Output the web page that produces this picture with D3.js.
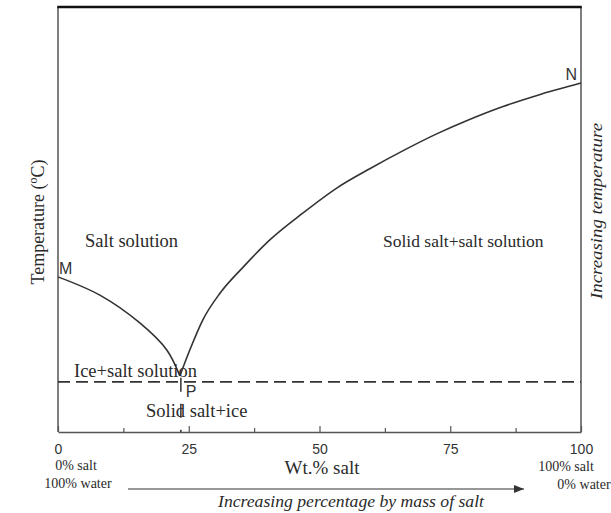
<!DOCTYPE html>
<html>
<head>
<meta charset="utf-8">
<script src="https://cdn.jsdelivr.net/npm/d3@7"></script>
<style>
  html, body { margin: 0; padding: 0; background: #fff; }
  svg { display: block; }
  .serif { font-family: "Liberation Serif", "Times New Roman", serif; fill: #2a2a2a; }
  .sans { font-family: "Liberation Sans", Arial, sans-serif; fill: #333; }
</style>
</head>
<body>
<svg id="chart" width="611" height="513"></svg>
<script>
// Salt–water phase diagram (schematic, temperature in relative units)

// Ice liquidus: M (pure water) down to the eutectic P
const iceCurveSalt = [0, 8.0, 15.7, 20.8, 23.3];
const iceCurveTemp = [36.5, 32.2, 25.6, 19.3, 13.2];

// Salt solubility curve: P up to N (pure salt)
const saltCurveSalt = [23.3, 25.2, 27.7, 31.0, 35.4, 40.5, 46.8, 53.3, 59.7, 66.0, 72.5, 78.8, 85.1, 91.6, 100];
const saltCurveTemp = [13.2, 19.3, 26.4, 32.7, 38.8, 45.2, 51.5, 57.4, 62.0, 66.2, 70.2, 73.6, 76.6, 79.2, 82.1];

// Eutectic
const eutecticSalt = 23.3;
const eutecticTemp = 11.8;

// Axis ticks
const majorTicks = [0, 25, 50, 75, 100];
const minorTicks = [12.5, 37.5, 62.5, 87.5];

const svg = d3.select("#chart");

const x = d3.scaleLinear().domain([0, 100]).range([58, 581]);
const y = d3.scaleLinear().domain([0, 100]).range([432, 7]);

// Frame
const frame = svg.append("g");
frame.append("line").attr("x1", x(0)).attr("x2", x(0)).attr("y1", y(100)).attr("y2", y(0))
  .attr("stroke", "#555").attr("stroke-width", 1.5);
frame.append("line").attr("x1", x(100)).attr("x2", x(100)).attr("y1", y(100)).attr("y2", y(0))
  .attr("stroke", "#555").attr("stroke-width", 1.5);
frame.append("line").attr("x1", x(0) - 0.75).attr("x2", x(100) + 0.75).attr("y1", y(100)).attr("y2", y(100))
  .attr("stroke", "#111").attr("stroke-width", 2.5);

// Bottom axis with inward ticks
const axisMajor = d3.axisBottom(x).tickValues(majorTicks)
  .tickSizeInner(-6).tickSizeOuter(0).tickPadding(12)
  .tickFormat(d3.format("d"));
const gx = svg.append("g").attr("transform", `translate(0,${y(0)})`).call(axisMajor);
gx.select(".domain").attr("stroke", "#555").attr("stroke-width", 1.5);
gx.selectAll(".tick line").attr("stroke", "#555").attr("stroke-width", 1.2);
gx.selectAll(".tick text").attr("class", "sans").attr("font-size", 14).attr("fill", "#333");

const axisMinor = d3.axisBottom(x).tickValues(minorTicks)
  .tickSizeInner(-4).tickSizeOuter(0).tickFormat("");
const gm = svg.append("g").attr("transform", `translate(0,${y(0)})`).call(axisMinor);
gm.select(".domain").remove();
gm.selectAll(".tick line").attr("stroke", "#555").attr("stroke-width", 1.2);

// Eutectic isotherm
svg.append("line")
  .attr("x1", x(0)).attr("x2", x(100))
  .attr("y1", y(eutecticTemp)).attr("y2", y(eutecticTemp))
  .attr("stroke", "#333").attr("stroke-width", 1.8)
  .attr("stroke-dasharray", "12,6");

// Vertical marker through P down to the axis
svg.append("line")
  .attr("x1", x(eutecticSalt) + 1).attr("x2", x(eutecticSalt) + 1)
  .attr("y1", y(eutecticTemp) - 4).attr("y2", y(0))
  .attr("stroke", "#333").attr("stroke-width", 1.5)
  .attr("stroke-dasharray", "14,12");

// Phase boundaries
const iceLine = d3.line().x(d => x(d[0])).y(d => y(d[1])).curve(d3.curveCatmullRom.alpha(0.5));
const saltLine = d3.line().x(d => x(d[0])).y(d => y(d[1])).curve(d3.curveMonotoneX);
svg.append("path")
  .datum(d3.zip(iceCurveSalt, iceCurveTemp))
  .attr("d", iceLine).attr("fill", "none").attr("stroke", "#333").attr("stroke-width", 1.6);
svg.append("path")
  .datum(d3.zip(saltCurveSalt, saltCurveTemp))
  .attr("d", saltLine).attr("fill", "none").attr("stroke", "#333").attr("stroke-width", 1.6);

// Point labels
svg.append("text").attr("class", "sans").attr("font-size", 16)
  .attr("x", x(0) + 1).attr("y", y(iceCurveTemp[0]) - 3).text("M");
svg.append("text").attr("class", "sans").attr("font-size", 16)
  .attr("x", x(eutecticSalt) + 6).attr("y", y(eutecticTemp) + 15).text("P");
svg.append("text").attr("class", "sans").attr("font-size", 16).attr("text-anchor", "end")
  .attr("x", x(100) - 4).attr("y", y(saltCurveTemp[saltCurveTemp.length - 1]) - 3).text("N");

// Region labels
const region = (tx, ty, t, fs) => svg.append("text").attr("class", "serif")
  .attr("font-size", fs).attr("x", tx).attr("y", ty).text(t);
region(85, 247, "Salt solution", 18.5);
region(383, 247, "Solid salt+salt solution", 17.5);
region(74, 377, "Ice+salt solution", 18.5);
region(146, 417, "Solid salt+ice", 18.5);

// Axis titles
svg.append("text").attr("class", "serif").attr("font-size", 19).attr("text-anchor", "middle")
  .attr("x", 322).attr("y", 474).text("Wt.% salt");

const yTitle = svg.append("text").attr("class", "serif").attr("font-size", 18)
  .attr("text-anchor", "middle")
  .attr("transform", "translate(44,222) rotate(-90)");
yTitle.append("tspan").text("Temperature (");
yTitle.append("tspan").attr("font-size", 12).attr("dy", -7).text("o");
yTitle.append("tspan").attr("dy", 7).text("C)");

// Composition end notes
const note = (tx, ty, t) => svg.append("text").attr("class", "serif")
  .attr("font-size", 14).attr("text-anchor", "middle").attr("x", tx).attr("y", ty).text(t);
note(76, 470, "0% salt");
note(78, 488, "100% water");
note(566, 471, "100% salt");
note(584, 489, "0% water");

// Composition arrow
svg.append("defs").append("marker")
  .attr("id", "arrowHead").attr("viewBox", "0 0 10 8")
  .attr("refX", 10).attr("refY", 4)
  .attr("markerWidth", 10).attr("markerHeight", 8)
  .attr("markerUnits", "userSpaceOnUse").attr("orient", "auto")
  .append("path").attr("d", "M0,0L10,4L0,8Z").attr("fill", "#333");
svg.append("line")
  .attr("x1", 128).attr("x2", 524).attr("y1", 489).attr("y2", 489)
  .attr("stroke", "#333").attr("stroke-width", 1.2)
  .attr("marker-end", "url(#arrowHead)");

svg.append("text").attr("class", "serif").attr("font-size", 16)
  .attr("font-style", "italic").attr("text-anchor", "middle")
  .attr("textLength", 266).attr("lengthAdjust", "spacingAndGlyphs")
  .attr("x", 351).attr("y", 507).text("Increasing percentage by mass of salt");

svg.append("text").attr("class", "serif").attr("font-size", 16)
  .attr("font-style", "italic").attr("text-anchor", "middle")
  .attr("textLength", 176).attr("lengthAdjust", "spacingAndGlyphs")
  .attr("transform", "translate(602,211) rotate(-90)")
  .text("Increasing temperature");
</script>
</body>
</html>
